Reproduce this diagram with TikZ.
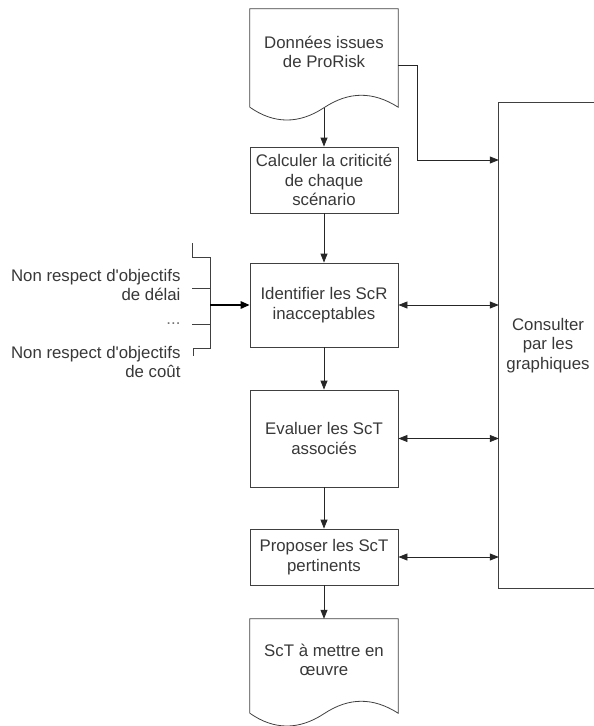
\documentclass[tikz,border=0pt]{standalone}
\usepackage{fontspec}
\setmainfont{Liberation Sans}
\usepackage{tikz}
\usetikzlibrary{calc, arrows.meta}

% document shape: top box of a node plus a wave below its south side
\newcommand{\docshape}[1]{%
  \draw[box] ($(#1.south west)+(0,12)$) -- (#1.north west) -- (#1.north east) -- ($(#1.south east)+(0,12)$)
    .. controls ($(#1.south)+(49,-4)$) and ($(#1.south)+(25,-4)$) .. ($(#1.south)+(0,12.5)$)
    .. controls ($(#1.south)+(-25,29)$) and ($(#1.south)+(-50,29)$) .. ($(#1.south west)+(0,12)$);
}

\begin{document}
\begin{tikzpicture}[x=1pt, y=-1pt,
  every node/.style={font=\fontsize{16.8}{19.5}\selectfont, text=black!78},
  box/.style={draw=black!75, line width=0.8pt},
  step box/.style={box, minimum width=148pt, align=center, inner sep=0pt},
  doc box/.style={minimum width=148pt, align=center, inner sep=0pt},
  arrow/.style={draw=black!85, line width=0.8pt, -{Triangle[length=9pt, width=7pt]}},
  both arrow/.style={draw=black!85, line width=0.8pt, {Triangle[length=9pt, width=7pt]}-{Triangle[length=9pt, width=7pt]}},
  thick arrow/.style={draw=black, line width=1.6pt, -{Triangle[length=9pt, width=7.5pt]}},
  bracket/.style={draw=black!75, line width=0.8pt}]
  \useasboundingbox (0,0) rectangle (594,726);

  % main column
  \node[doc box, minimum height=86pt] (data) at (324,52) {Données issues\\de ProRisk};
  \docshape{data}
  \node[step box, minimum height=66pt] (crit) at (324,180) {Calculer la criticité\\de chaque\\scénario};
  \node[step box, minimum height=84pt] (ident) at (324,305) {Identifier les ScR\\inacceptables};
  \node[step box, minimum height=97pt] (eval) at (324,438.5) {Evaluer les ScT\\associés};
  \node[step box, minimum height=56pt] (prop) at (324,557) {Proposer les ScT\\pertinents};
  \node[doc box, minimum height=82pt] (todo) at (324,660) {ScT à mettre en\\œuvre};
  \docshape{todo}

  % side box, open on the right
  \node[minimum width=98pt, minimum height=485pt, inner sep=0pt, align=center] (consult) at (548,345.5) {Consulter\\par les\\graphiques};
  \draw[box] (consult.north east) -- (consult.north west) -- (consult.south west) -- (consult.south east);

  % flow
  \draw[arrow] ($(data.south)+(0,12.5)$) -- (crit.north);
  \draw[arrow] (crit) -- (ident);
  \draw[arrow] (ident) -- (eval);
  \draw[arrow] (eval) -- (prop);
  \draw[arrow] (prop) -- (todo);

  % links to the side box
  \coordinate (bend) at (417,160);
  \draw[arrow] ([yshift=-13pt]data.east) -| (bend) -- (bend -| consult.west);
  \foreach \n in {ident, eval, prop} {
    \draw[both arrow] (\n.east) -- (\n.east -| consult.west);
  }

  % inputs on the left
  \node[anchor=east, align=right] (delai) at (184,285) {Non respect d\textquotesingle objectifs\\de délai};
  \node[anchor=east, text=black!55] (dots) at (184,324) {...};
  \node[anchor=east, align=right] (cout) at (184,362) {Non respect d\textquotesingle objectifs\\de coût};
  \coordinate (spineT) at (210,257);
  \coordinate (spineM) at (210,305);
  \coordinate (spineB) at (210,348);
  \draw[bracket] (192,243) |- (spineT) -- (spineB) -| (193,356);
  \draw[bracket] (192,288) -- (spineT |- 0,288);
  \draw[bracket] (192,324) -- (spineT |- 0,324);
  \draw[thick arrow] (spineM) -- (ident.west);
\end{tikzpicture}
\end{document}
